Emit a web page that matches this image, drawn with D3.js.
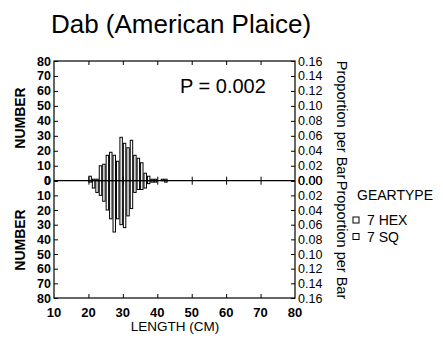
<!DOCTYPE html>
<html><head><meta charset="utf-8">
<script src="https://cdn.jsdelivr.net/npm/d3@7"></script>
<style>
html,body{margin:0;padding:0;background:#fff;}
svg{display:block;}
text{font-family:"Liberation Sans",Arial,sans-serif;fill:#000;}
</style></head>
<body>
<svg id="c" width="443" height="343"></svg>
<script>
// Data
const binStarts = [20,21,22,23,24,25,26,27,28,29,30,31,32,33,34,35,36,37,38,39,40,41,42,43];
const hexCounts = [3,1,1,10,11,17,19,17,13,29,25,22,27,17,15,12,5,3,1,1,0,1,1,0];   // top (7 HEX)
const sqCounts  = [1,5,8,10,14,20,26,35,26,30,32,24,19,8,6,6,5,2,1,1,0,0,1,0];     // bottom (7 SQ)
const xTicks = [10,20,30,40,50,60,70,80];
const countTicks = [0,10,20,30,40,50,60,70,80];
const propTicks = [0,0.02,0.04,0.06,0.08,0.10,0.12,0.14,0.16];
const legendItems = ["7 HEX","7 SQ"];
const binWidth = 1;

const svg = d3.select("#c");
const L=54, R=295, T=61, B=298, Z=180.7;
const x = d3.scaleLinear().domain([10,80]).range([L,R]);
const yTop = d3.scaleLinear().domain([0,80]).range([Z,T]);
const yBot = d3.scaleLinear().domain([0,80]).range([Z,B]);
const pTop = d3.scaleLinear().domain([0,0.16]).range([Z,T]);
const pBot = d3.scaleLinear().domain([0,0.16]).range([Z,B]);

// Title
svg.append("text").attr("x",181).attr("y",33).attr("text-anchor","middle")
  .style("font-size","26px").text("Dab (American Plaice)");

// Bars
const g = svg.append("g");
const data = binStarts.map((s,i)=>({s, h:hexCounts[i], q:sqCounts[i]}));
g.selectAll("rect.top").data(data.filter(d=>d.h>0)).join("rect")
  .attr("x",d=>x(d.s)+0.5).attr("width",d=>x(d.s+binWidth)-x(d.s)-1)
  .attr("y",d=>yTop(d.h)).attr("height",d=>Z-yTop(d.h))
  .attr("fill","#fff").attr("stroke","#000").attr("stroke-width",1);
g.selectAll("rect.bot").data(data.filter(d=>d.q>0)).join("rect")
  .attr("x",d=>x(d.s)+0.5).attr("width",d=>x(d.s+binWidth)-x(d.s)-1)
  .attr("y",Z).attr("height",d=>yBot(d.q)-Z)
  .attr("fill","#fff").attr("stroke","#000").attr("stroke-width",1);

// Frame & zero line
svg.append("rect").attr("x",L).attr("y",T).attr("width",R-L).attr("height",B-T)
  .attr("fill","none").attr("stroke","#000").attr("stroke-width",1.2);
svg.append("line").attr("x1",L).attr("x2",R).attr("y1",Z).attr("y2",Z)
  .attr("stroke","#000").attr("stroke-width",1.2);

const fs = "12.5px";
// Left axes (ticks inward)
function leftAxis(scale){
  const a = svg.append("g").attr("transform",`translate(${L},0)`)
    .call(d3.axisRight(scale).tickValues(countTicks).tickSize(4).tickFormat(""));
  a.select(".domain").remove();
  a.selectAll("line").attr("stroke","#000");
  svg.append("g").selectAll("text").data(countTicks).join("text")
    .attr("x",L-3).attr("y",d=>scale(d)+4.5).attr("text-anchor","end")
    .style("font-size",fs).style("font-weight","bold").text(d=>d);
}
leftAxis(yTop); leftAxis(yBot);
// Right axes
function rightAxis(scale){
  const a = svg.append("g").attr("transform",`translate(${R},0)`)
    .call(d3.axisLeft(scale).tickValues(propTicks).tickSize(4).tickFormat(""));
  a.select(".domain").remove();
  a.selectAll("line").attr("stroke","#000");
  svg.append("g").selectAll("text").data(propTicks).join("text")
    .attr("x",R+3).attr("y",d=>scale(d)+4.5).attr("text-anchor","start")
    .style("font-size",fs).text(d=>d3.format(".2f")(d));
}
rightAxis(pTop); rightAxis(pBot);

// X ticks: top inward, bottom inward, zero-line crosses
const inner = xTicks.filter(v=>v>10 && v<80);
const at = svg.append("g").attr("transform",`translate(0,${T})`)
  .call(d3.axisBottom(x).tickValues(inner).tickSize(4).tickFormat(""));
at.select(".domain").remove();
const ab = svg.append("g").attr("transform",`translate(0,${B})`)
  .call(d3.axisTop(x).tickValues(inner).tickSize(4).tickFormat(""));
ab.select(".domain").remove();
const az1 = svg.append("g").attr("transform",`translate(0,${Z})`)
  .call(d3.axisTop(x).tickValues(inner).tickSize(4).tickFormat(""));
az1.select(".domain").remove();
const az2 = svg.append("g").attr("transform",`translate(0,${Z})`)
  .call(d3.axisBottom(x).tickValues(inner).tickSize(4).tickFormat(""));
az2.select(".domain").remove();
svg.selectAll(".tick line").attr("stroke","#000");

svg.append("g").selectAll("text").data(xTicks).join("text")
  .attr("x",d=>x(d)).attr("y",317).attr("text-anchor","middle")
  .style("font-size","13px").style("font-weight","bold").text(d=>d);
svg.append("text").attr("x",175).attr("y",331).attr("text-anchor","middle")
  .style("font-size","13.5px").text("LENGTH (CM)");

// NUMBER labels
[118,240].forEach(cy=>{
  svg.append("text").attr("transform",`translate(25,${cy}) rotate(-90)`)
    .attr("text-anchor","middle").style("font-size","14px").style("font-weight","bold").text("NUMBER");
});
// Proportion per Bar labels
[120,240].forEach(cy=>{
  svg.append("text").attr("transform",`translate(337,${cy}) rotate(90)`)
    .attr("text-anchor","middle").style("font-size","14.5px").text("Proportion per Bar");
});

// P value
svg.append("text").attr("x",180).attr("y",93).style("font-size","20px").text("P = 0.002");

// Legend
svg.append("text").attr("x",357).attr("y",200).style("font-size","14px").text("GEARTYPE");
const lg = svg.append("g").selectAll("g").data(legendItems).join("g")
  .attr("transform",(d,i)=>`translate(353,${220+i*16.5})`);
lg.append("rect").attr("x",0).attr("y",-3).attr("width",6).attr("height",6)
  .attr("fill","#fff").attr("stroke","#000").attr("stroke-width",1);
lg.append("text").attr("x",14).attr("y",5).style("font-size","14px").text(d=>d);
</script>
</body></html>
